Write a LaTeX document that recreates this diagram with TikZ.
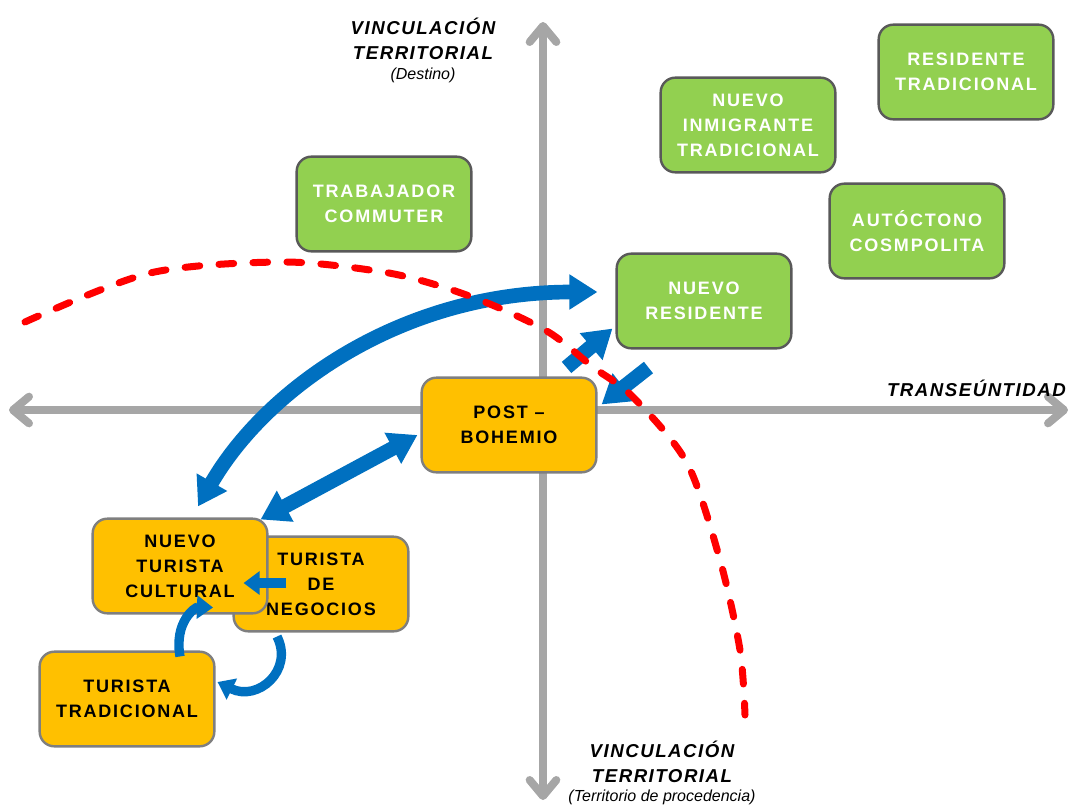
\documentclass[tikz,border=0pt]{standalone}
\usepackage{fontspec}
\setmainfont{Liberation Sans}
\newfontfamily\boxfont[LetterSpace=10]{Liberation Sans}
\newfontfamily\axisfont[LetterSpace=8]{Liberation Sans}
\usetikzlibrary{arrows.meta, positioning, calc}
\definecolor{cgreen}{HTML}{92D050}
\definecolor{corange}{HTML}{FFC000}
\definecolor{cblue}{HTML}{0070C0}
\definecolor{cred}{HTML}{FF0000}
\definecolor{cgrey}{HTML}{A6A6A6}
\definecolor{cedge}{HTML}{7F7F7F}
\definecolor{cdark}{HTML}{595959}
\tikzset{
  box/.style={rounded corners=11pt, line width=1.8pt, minimum width=131pt, minimum height=71pt, align=center, inner sep=2pt, font=\boxfont\bfseries\fontsize{13.5}{18.75}\selectfont},
  greenbox/.style={box, draw=cdark, fill=cgreen, text=white},
  orangebox/.style={box, draw=cedge, fill=corange, text=black},
  axis/.style={draw=cgrey, line width=6pt, {Straight Barb[round, length=12pt, width=20pt]}-{Straight Barb[round, length=12pt, width=20pt]}},
  axislabel/.style={font=\axisfont\bfseries\itshape\fontsize{14}{18.75}\selectfont, align=center, inner sep=0pt},
  axisnote/.style={font=\itshape\fontsize{12}{14}\selectfont, inner sep=0pt},
  bigarrow/.style={draw=cblue, line width=11pt, -{Triangle[length=21pt, width=25pt]}},
  bothways/.style={bigarrow, {Triangle[length=21pt, width=25pt]}-{Triangle[length=21pt, width=25pt]}},
  smallarrow/.style={draw=cblue, line width=7pt, -{Triangle[length=12pt, width=17pt]}},
  limit/.style={draw=cred, line width=5.25pt, line cap=round, dash pattern=on 11pt off 14.5pt},
}

\begin{document}
\begin{tikzpicture}[x=0.75pt, y=-0.75pt]
  \useasboundingbox (0,0) rectangle (1071,807);
  % axes
  \draw[axis] (543,800) -- (543,22);
  \draw[axis] (9,410) -- (1068,410);
  \node[axislabel] (vtop) at (423,39) {VINCULACIÓN\\TERRITORIAL};
  \node[axisnote, below=6pt of vtop] (dest) {(Destino)};
  \node[axislabel] (vbot) at (662,762) {VINCULACIÓN\\TERRITORIAL};
  \node[axisnote, below=5pt of vbot] (proc) {(Territorio de procedencia)};
  \node[axislabel, anchor=east] (trans) at (1066,388) {TRANSEÚNTIDAD};
  % profiles
  \node[greenbox] (restrad) at (966,72) {RESIDENTE\\TRADICIONAL};
  \node[greenbox] (ninmig) at (748,125) {NUEVO\\INMIGRANTE\\TRADICIONAL};
  \node[greenbox] (commuter) at (384,204) {TRABAJADOR\\COMMUTER};
  \node[greenbox] (autoc) at (917,231) {AUTÓCTONO\\COSMPOLITA};
  \node[greenbox] (nres) at (704,301) {NUEVO\\RESIDENTE};
  \node[orangebox] (post) at (509,425) {POST –\\BOHEMIO};
  \node[orangebox] (negoc) at (321,584) {TURISTA\\DE\\NEGOCIOS};
  \node[orangebox] (ncult) at (180,566) {NUEVO\\TURISTA\\CULTURAL};
  \node[orangebox] (ttrad) at (127,699) {TURISTA\\TRADICIONAL};
  % flows
  \draw[bothways] ($(ncult.north)+(18,-11)$) .. controls (265,390) and (400,292) .. ($(nres.west)+(-18,-9)$);
  \draw[bothways] ($(ncult.north east)+(-8,2)$) -- ($(post.west)+(-3,10)$);
  \draw[bigarrow] ($(post.north east)+(-31,-9)$) -- ($(nres.south west)+(-3,-21)$);
  \draw[bigarrow] ($(nres.south west)+(33,18)$) -- ($(post.north east)+(4,28)$);
  \draw[smallarrow] ($(negoc.west)+(54,-1)$) -- ($(ncult.east)+(-25,17)$);
  \draw[smallarrow] ($(ttrad.north)+(53,6)$) .. controls (174,622) and (195,607) .. ($(ncult.south)+(33,-7)$);
  \draw[smallarrow] ($(negoc.south)+(-44,4)$) .. controls (294,670) and (258,702) .. ($(ttrad.east)+(2,-17)$);
  % limit
  \draw[limit] plot[smooth] coordinates {(25,322) (150,273) (283,262) (383,272) (443,287) (497,307) (550,333) (593,367) (633,397) (687,463) (720,560) (740,650) (745,715)};
\end{tikzpicture}
\end{document}
